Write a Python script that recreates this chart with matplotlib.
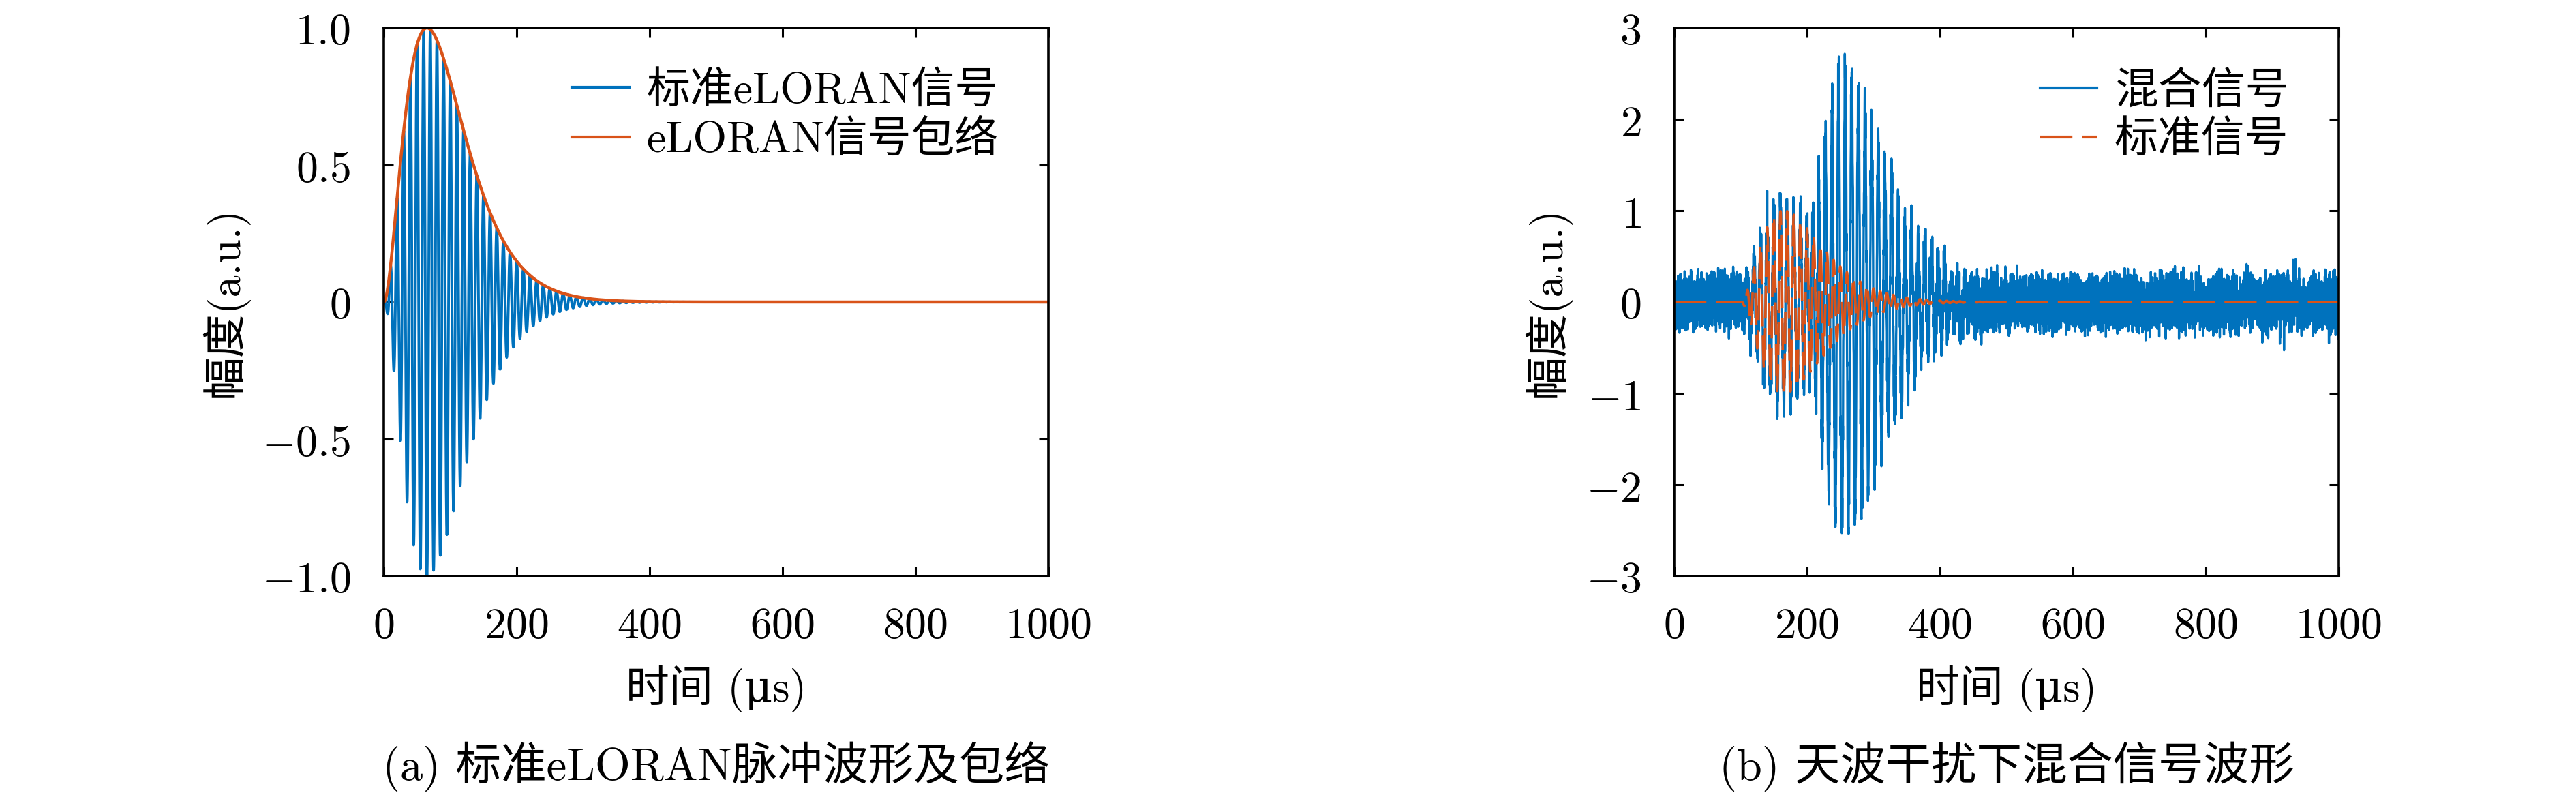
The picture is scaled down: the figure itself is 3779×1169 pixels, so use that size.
import numpy as np
import matplotlib
matplotlib.use('Agg')
import matplotlib.pyplot as plt

# ---------------- data ----------------
carrier_freq_mhz = 0.1        # 100 kHz eLORAN carrier
envelope_peak_us = 65.0       # standard pulse envelope peaks 65 us after start
pulse_a_start_us = 0.0        # panel (a) pulse start
pulse_b_start_us = 100.0      # panel (b) ground-wave (standard signal) start
skywave_delay_us = 92.0       # skywave delay relative to ground wave
skywave_gain = 2.55           # skywave amplitude relative to ground wave
skywave_phase_rad = np.pi     # skywave carrier phase
noise_rms = 0.17              # additive noise level in panel (b)
t_end_us = 1000.0
step_a_us = 0.25
step_b_us = 0.2

x_ticks = [0, 200, 400, 600, 800, 1000]
x_tick_labels = ['$0$', '$200$', '$400$', '$600$', '$800$', '$1000$']
ya_ticks = [-1.0, -0.5, 0.0, 0.5, 1.0]
ya_tick_labels = ['$-1.0$', '$-0.5$', '$0$', '$0.5$', '$1.0$']
yb_ticks = [-3, -2, -1, 0, 1, 2, 3]
yb_tick_labels = ['$-3$', '$-2$', '$-1$', '$0$', '$1$', '$2$', '$3$']

legend_a = ['标准eLORAN信号', 'eLORAN信号包络']
legend_b = ['混合信号', '标准信号']
caption_a = '(a) 标准eLORAN脉冲波形及包络'
caption_b = '(b) 天波干扰下混合信号波形'
xlabel_text = '时间 (μs)'
ylabel_text = '幅度(a.u.)'

blue = '#0072BD'
orange = '#D95319'

# ---------------- signal model ----------------
def envelope(tau):
    tau = np.asarray(tau, dtype=float)
    x = np.clip(tau, 0, None) / envelope_peak_us
    return np.where(tau > 0, x ** 2 * np.exp(2.0 * (1.0 - x)), 0.0)

def pulse(t, start, phase=0.0):
    return envelope(t - start) * np.cos(2 * np.pi * carrier_freq_mhz * (t - start) + phase)

t_a = np.arange(0, t_end_us + step_a_us / 2, step_a_us)
env_a = envelope(t_a - pulse_a_start_us)
sig_a = pulse(t_a, pulse_a_start_us)

t_b = np.arange(0, t_end_us + step_b_us / 2, step_b_us)
ground_b = pulse(t_b, pulse_b_start_us)
sky_b = skywave_gain * pulse(t_b, pulse_b_start_us + skywave_delay_us, skywave_phase_rad)

# deterministic broadband noise: many incommensurate sinusoids
n_comp = 1200
k = np.arange(1, n_comp + 1)
golden = (np.sqrt(5) - 1) / 2
f_nyq = 0.5 / step_b_us
freqs = (k - 0.5 + 0.8 * (np.mod(k * np.sqrt(2), 1.0) - 0.5)) / n_comp * f_nyq
phases = 2 * np.pi * np.mod(k * k * golden, 1.0) + np.pi
noise_b = np.zeros_like(t_b)
for i0 in range(0, n_comp, 200):
    noise_b += np.sin(2 * np.pi * np.outer(t_b, freqs[i0:i0 + 200]) + phases[i0:i0 + 200]).sum(axis=1)
noise_b = noise_b / noise_b.std() * noise_rms
mixed_b = ground_b + sky_b + noise_b

# ---------------- figure ----------------
plt.rcParams['mathtext.fontset'] = 'cm'
plt.rcParams['lines.scale_dashes'] = False
fam = ['cmr10', 'DejaVu Serif', 'Noto Sans CJK SC']
fs = 46

W, H = 3780, 1169
fig = plt.figure(figsize=(W / 100, H / 100), dpi=100)

ax_top, ax_bot = 41, 845
axa = fig.add_axes([563 / W, 1 - ax_bot / H, 975 / W, (ax_bot - ax_top) / H])
axb = fig.add_axes([2456 / W, 1 - ax_bot / H, 975 / W, (ax_bot - ax_top) / H])

axa.plot(t_a, sig_a, color=blue, lw=2.8, label=legend_a[0])
axa.plot(t_a, env_a, color=orange, lw=3.2, label=legend_a[1])
axa.set_ylim(-1, 1)
axa.set_yticks(ya_ticks)
axa.set_yticklabels(ya_tick_labels)

axb.plot(t_b, mixed_b, color=blue, lw=2.4, label=legend_b[0])
axb.plot(t_b, ground_b, color=orange, lw=2.6, ls=(0, (34, 10)), label=legend_b[1])
axb.set_ylim(-3, 3)
axb.set_yticks(yb_ticks)
axb.set_yticklabels(yb_tick_labels)

ylabel_x = {id(axa): (330 - 563) / 975, id(axb): (2270 - 2456) / 975}
xlabel_y = (ax_bot - 1010) / (ax_bot - ax_top)

for ax, cap, leg_anchor in ((axa, caption_a, (0.99, 1.0)), (axb, caption_b, (0.99, 1.0))):
    ax.set_xlim(0, t_end_us)
    ax.set_xticks(x_ticks)
    ax.set_xticklabels(x_tick_labels)
    ax.tick_params(direction='in', top=True, right=True, length=10, width=2.2,
                   labelsize=fs)
    ax.tick_params(axis='x', pad=30)
    ax.tick_params(axis='y', pad=35)
    for s in ax.spines.values():
        s.set_linewidth(2.6)
    ax.set_xlabel(xlabel_text, family=fam, fontsize=fs, va='center')
    ax.xaxis.set_label_coords(0.5, xlabel_y)
    ax.set_ylabel(ylabel_text, family=fam, fontsize=fs, va='center')
    ax.yaxis.set_label_coords(ylabel_x[id(ax)], 0.5)
    leg = ax.legend(loc='upper right', bbox_to_anchor=leg_anchor, frameon=False,
                    prop={'family': fam, 'size': fs}, handlelength=1.3,
                    handletextpad=0.4, labelspacing=0.2, borderaxespad=0.6)
    for line in leg.get_lines():
        line.set_linewidth(3.0)
    pos = ax.get_position()
    fig.text((pos.x0 + pos.x1) / 2, 1 - 1124 / H, cap, family=fam, fontsize=fs + 2,
             ha='center', va='center')

fig.savefig('out.png', dpi=100)
